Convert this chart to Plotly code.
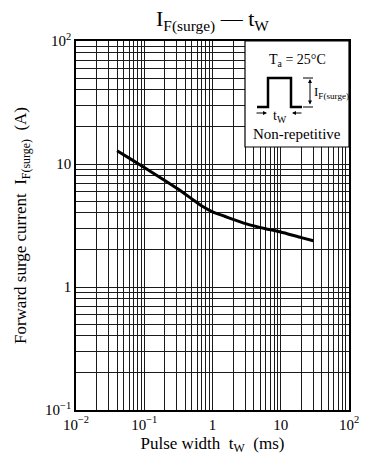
import plotly.graph_objects as go

# ---- data ----
pulse_width_ms = [0.04, 0.07, 0.1, 0.2, 0.3, 0.5, 0.7, 1.0, 1.5, 2.0, 3.5, 6.0, 10.0, 20.0, 30.0]
surge_current_a = [12.8, 10.6, 9.35, 7.35, 6.35, 5.2, 4.55, 4.08, 3.76, 3.55, 3.2, 2.98, 2.8, 2.52, 2.38]

x_decades = [0.01, 0.1, 1, 10, 100]
x_labels = ["10<sup>−2</sup>", "10<sup>−1</sup>", "1", "10", "10<sup>2</sup>"]
y_decades = [0.1, 1, 10, 100]
y_labels = ["10<sup>−1</sup>", "1", "10", "10<sup>2</sup>"]

W, H = 372, 466
ML, MR, MT, MB = 76, 23, 41, 56
PW, PH = W - ML - MR, H - MT - MB


def minor_vals(decades):
    return [d * k for d in decades[:-1] for k in range(2, 10)]


def px(x):
    return (x - ML) / PW


def py(y):
    return (MT + PH - y) / PH


FONT = "Liberation Serif"
GRID = "#1a1a1a"

fig = go.Figure()
fig.add_trace(go.Scatter(
    x=pulse_width_ms, y=surge_current_a, mode="lines",
    line=dict(color="black", width=3, shape="spline", smoothing=0.5),
    hoverinfo="skip", showlegend=False,
))

axis_common = dict(
    type="log", showgrid=True, gridcolor=GRID, gridwidth=1,
    showline=True, linecolor="black", linewidth=1.5, mirror=True,
    ticks="", zeroline=False, automargin=False,
    tickfont=dict(family=FONT, size=15, color="black"),
)

fig.update_xaxes(
    **axis_common, range=[-2, 2], tickmode="array", tickvals=x_decades, ticktext=x_labels,
    minor=dict(tickmode="array", tickvals=minor_vals(x_decades), showgrid=True,
               gridcolor=GRID, gridwidth=1, ticks=""),
    title=dict(text="Pulse width  t<sub>W</sub>  (ms)",
               font=dict(family=FONT, size=17, color="black"), standoff=5),
)
fig.update_yaxes(
    **axis_common, range=[-1, 2], tickmode="array", tickvals=y_decades, ticktext=y_labels,
    minor=dict(tickmode="array", tickvals=minor_vals(y_decades), showgrid=True,
               gridcolor=GRID, gridwidth=1, ticks=""),
    title=dict(text="Forward surge current  I<sub>F(surge)</sub>  (A)",
               font=dict(family=FONT, size=17, color="black"), standoff=14),
)

shapes = []
# inset box
shapes.append(dict(type="rect", xref="paper", yref="paper",
                   x0=px(245), x1=px(349), y0=py(147), y1=py(41),
                   fillcolor="white", line=dict(color="black", width=1.2),
                   layer="above"))
# pulse waveform
pulse_pts = [(257, 107), (268, 107), (268, 78), (291, 78), (291, 107), (302, 107)]
path = "M " + " L ".join(f"{px(a)},{py(b)}" for a, b in pulse_pts)
shapes.append(dict(type="path", xref="paper", yref="paper", path=path,
                   line=dict(color="black", width=2.5), layer="above"))
# dimension ticks
for yy in (78, 107):
    shapes.append(dict(type="line", xref="paper", yref="paper",
                       x0=px(303), x1=px(313), y0=py(yy), y1=py(yy),
                       line=dict(color="black", width=1), layer="above"))

annotations = [
    dict(text="I<sub>F(surge)</sub> — t<sub>W</sub>", xref="paper", yref="paper",
         x=0.5, y=py(20), showarrow=False, xanchor="center", yanchor="middle",
         font=dict(family=FONT, size=22, color="black")),
    dict(text="T<sub>a</sub> = 25°C", xref="paper", yref="paper",
         x=px(297), y=py(61), showarrow=False, xanchor="center", yanchor="middle",
         font=dict(family=FONT, size=14, color="black")),
    dict(text="Non-repetitive", xref="paper", yref="paper",
         x=px(297), y=py(134), showarrow=False, xanchor="center", yanchor="middle",
         font=dict(family=FONT, size=15, color="black")),
    dict(text="I<sub>F(surge)</sub>", xref="paper", yref="paper",
         x=px(312), y=py(92), showarrow=False, xanchor="left", yanchor="middle",
         font=dict(family=FONT, size=13, color="black")),
    dict(text="t<sub>W</sub>", xref="paper", yref="paper",
         x=px(280), y=py(116), showarrow=False, xanchor="center", yanchor="middle",
         font=dict(family=FONT, size=14, color="black")),
    # arrows
    dict(text="", xref="paper", yref="paper", x=px(267), y=py(113),
         ax=-12, ay=0, showarrow=True, arrowhead=2, arrowsize=0.8,
         arrowwidth=1, arrowcolor="black"),
    dict(text="", xref="paper", yref="paper", x=px(292), y=py(113),
         ax=11, ay=0, showarrow=True, arrowhead=2, arrowsize=0.8,
         arrowwidth=1, arrowcolor="black"),
    dict(text="", xref="paper", yref="paper", x=px(310), y=py(79),
         ax=0, ay=27, showarrow=True, arrowhead=2, startarrowhead=2,
         arrowside="end+start", arrowsize=0.8, arrowwidth=1,
         arrowcolor="black"),
]

fig.update_layout(
    width=W, height=H, margin=dict(l=ML, r=MR, t=MT, b=MB),
    paper_bgcolor="white", plot_bgcolor="white",
    shapes=shapes, annotations=annotations, showlegend=False,
    font=dict(family=FONT, color="black"),
)

fig.write_html("out.html", config={"displayModeBar": False},
               post_script="document.body.style.margin='0';document.body.style.overflow='hidden';")
